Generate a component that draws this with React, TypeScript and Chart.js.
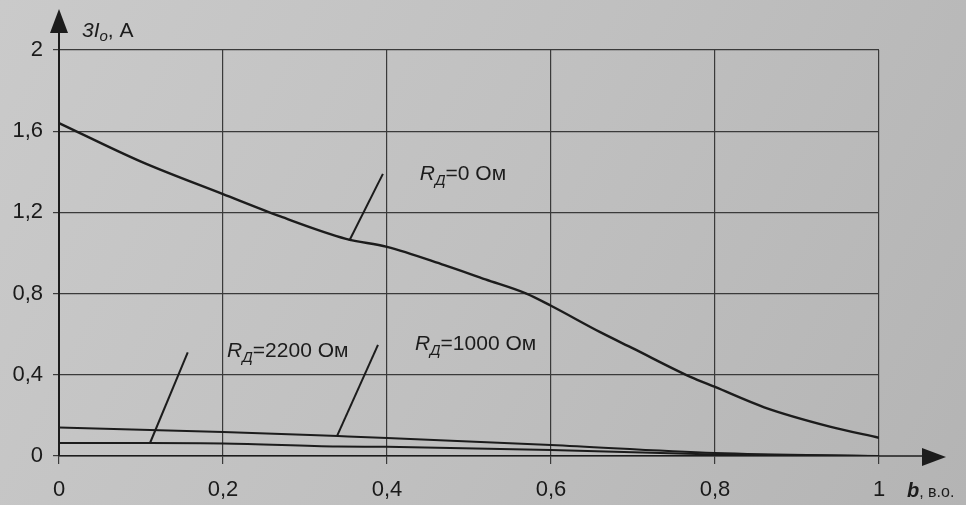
import React, { useEffect, useRef } from 'react';
import { Chart, registerables } from 'chart.js';

Chart.register(...registerables);

// Curve R_Д = 0 Ом
const r0X = [0, 0.1, 0.2, 0.27, 0.35, 0.4, 0.47, 0.52, 0.57, 0.6, 0.66, 0.7, 0.77, 0.8, 0.86, 0.94, 1];
const r0Y = [1.64, 1.45, 1.29, 1.18, 1.07, 1.03, 0.94, 0.87, 0.8, 0.74, 0.61, 0.53, 0.39, 0.34, 0.24, 0.145, 0.09];
// Curve R_Д = 1000 Ом
const r1000X = [0, 0.2, 0.34, 0.4, 0.6, 0.8, 1];
const r1000Y = [0.14, 0.118, 0.098, 0.089, 0.054, 0.015, 0];
// Curve R_Д = 2200 Ом
const r2200X = [0, 0.11, 0.2, 0.34, 0.4, 0.6, 0.8, 1];
const r2200Y = [0.064, 0.064, 0.062, 0.047, 0.045, 0.03, 0.008, 0];

// Leader lines (top end, bottom end on curve)
const lead0X = [0.395, 0.354];
const lead0Y = [1.39, 1.06];
const lead1000X = [0.389, 0.339];
const lead1000Y = [0.547, 0.098];
const lead2200X = [0.157, 0.111];
const lead2200Y = [0.51, 0.064];

// Curve labels (left edge, text baseline)
const labelTexts = ['=0 Ом', '=2200 Ом', '=1000 Ом'];
const labelX = [0.44, 0.205, 0.434];
const labelY = [1.362, 0.49, 0.52];

const xTicks = [0, 0.2, 0.4, 0.6, 0.8, 1];
const yTicks = [0, 0.4, 0.8, 1.2, 1.6, 2];
const yTitle = { main: '3I', sub: 'o', rest: ', A' };
const xTitle = { main: 'b', rest: ', в.о.' };

const pts = (xs: number[], ys: number[]) => xs.map((x, i) => ({ x, y: ys[i] }));
const fmt = (v: number) => String(Number(v.toFixed(1))).replace('.', ',');

const INK = '#1c1c1c';
const FONT = '"Liberation Sans", Arial, sans-serif';

export default function App() {
  const ref = useRef<HTMLCanvasElement | null>(null);

  useEffect(() => {
    if (!ref.current) return;

    const bgPlugin = {
      id: 'bg',
      beforeDraw(chart: any) {
        const { ctx, width, height } = chart;
        const g = ctx.createLinearGradient(0, 0, width, height);
        g.addColorStop(0, '#cacaca');
        g.addColorStop(0.5, '#c0c0c0');
        g.addColorStop(1, '#b4b4b4');
        ctx.save();
        ctx.fillStyle = g;
        ctx.fillRect(0, 0, width, height);
        ctx.restore();
      },
    };

    const decoPlugin = {
      id: 'deco',
      afterDraw(chart: any) {
        const { ctx, chartArea } = chart;
        const xs = chart.scales.x;
        const ys = chart.scales.y;
        const left = chartArea.left;
        const bottom = chartArea.bottom;
        ctx.save();
        ctx.strokeStyle = INK;
        ctx.fillStyle = INK;
        // y axis arrow
        ctx.lineWidth = 2;
        ctx.beginPath();
        ctx.moveTo(left, chartArea.top);
        ctx.lineTo(left, 20);
        ctx.stroke();
        ctx.beginPath();
        ctx.moveTo(left, 9);
        ctx.lineTo(left - 9, 33);
        ctx.lineTo(left + 9, 33);
        ctx.closePath();
        ctx.fill();
        // x axis arrow
        ctx.lineWidth = 1.5;
        ctx.beginPath();
        ctx.moveTo(chartArea.right, bottom);
        ctx.lineTo(930, bottom);
        ctx.stroke();
        ctx.beginPath();
        ctx.moveTo(946, bottom + 1);
        ctx.lineTo(922, bottom - 8);
        ctx.lineTo(922, bottom + 10);
        ctx.closePath();
        ctx.fill();

        // y title
        ctx.textBaseline = 'alphabetic';
        ctx.textAlign = 'left';
        let tx = 82;
        const ty = 37;
        ctx.font = `italic 21px ${FONT}`;
        ctx.fillText(yTitle.main, tx, ty);
        tx += ctx.measureText(yTitle.main).width;
        ctx.font = `italic 15px ${FONT}`;
        ctx.fillText(yTitle.sub, tx, ty + 4);
        tx += ctx.measureText(yTitle.sub).width;
        ctx.font = `21px ${FONT}`;
        ctx.fillText(yTitle.rest, tx, ty);

        // x title
        let bx = 907;
        const by = 497;
        ctx.font = `italic bold 20px ${FONT}`;
        ctx.fillText(xTitle.main, bx, by);
        bx += ctx.measureText(xTitle.main).width;
        ctx.font = `16px ${FONT}`;
        ctx.fillText(xTitle.rest, bx, by);

        // curve labels
        for (let i = 0; i < labelTexts.length; i++) {
          let lx = xs.getPixelForValue(labelX[i]);
          const ly = ys.getPixelForValue(labelY[i]);
          ctx.font = `italic 21px ${FONT}`;
          ctx.fillText('R', lx, ly);
          lx += ctx.measureText('R').width;
          ctx.font = `italic 15px ${FONT}`;
          ctx.fillText('Д', lx, ly + 5);
          lx += ctx.measureText('Д').width;
          ctx.font = `21px ${FONT}`;
          ctx.fillText(labelTexts[i], lx, ly);
        }
        ctx.restore();
      },
    };

    const lineDs = (xs: number[], ys: number[], w = 2.2) => ({
      data: pts(xs, ys),
      borderColor: INK,
      borderWidth: w,
      pointRadius: 0,
      fill: false,
      tension: 0.35,
      cubicInterpolationMode: 'monotone' as const,
    });
    const leadDs = (xs: number[], ys: number[]) => ({
      data: pts(xs, ys),
      borderColor: INK,
      borderWidth: 2,
      pointRadius: 0,
      fill: false,
      tension: 0,
    });

    const chart = new Chart(ref.current, {
      type: 'line',
      data: {
        datasets: [
          lineDs(r0X, r0Y, 2.4),
          lineDs(r1000X, r1000Y, 2),
          lineDs(r2200X, r2200Y, 2),
          leadDs(lead0X, lead0Y),
          leadDs(lead1000X, lead1000Y),
          leadDs(lead2200X, lead2200Y),
        ] as any,
      },
      options: {
        responsive: false,
        animation: false,
        layout: { padding: { top: 50, right: 87, left: 0, bottom: 0 } },
        plugins: { legend: { display: false }, tooltip: { enabled: false } },
        scales: {
          x: {
            type: 'linear',
            min: 0,
            max: 1,
            afterBuildTicks: (s: any) => { s.ticks = xTicks.map((v) => ({ value: v })); },
            afterFit: (s: any) => { s.height = 49; },
            ticks: {
              callback: (v: any) => fmt(Number(v)),
              color: '#1a1a1a',
              font: { family: FONT, size: 22 },
              padding: 13,
              maxRotation: 0,
            },
            grid: { color: '#3a3a3a', lineWidth: 1.2, tickLength: 8, drawTicks: true },
            border: { color: INK, width: 1.5 },
          },
          y: {
            type: 'linear',
            min: 0,
            max: 2,
            afterBuildTicks: (s: any) => { s.ticks = yTicks.map((v) => ({ value: v })); },
            afterFit: (s: any) => { s.width = 59; },
            ticks: {
              callback: (v: any) => fmt(Number(v)),
              color: '#1a1a1a',
              font: { family: FONT, size: 22 },
              padding: 10,
            },
            grid: { color: '#3a3a3a', lineWidth: 1.2, tickLength: 6, drawTicks: true },
            border: { color: INK, width: 2 },
          },
        },
      },
      plugins: [bgPlugin, decoPlugin],
    });
    return () => chart.destroy();
  }, []);

  return (
    <div style={{ position: 'fixed', left: 0, top: 0, width: 966, height: 505 }}>
      <canvas ref={ref} width={966} height={505} style={{ display: 'block' }} />
    </div>
  );
}
